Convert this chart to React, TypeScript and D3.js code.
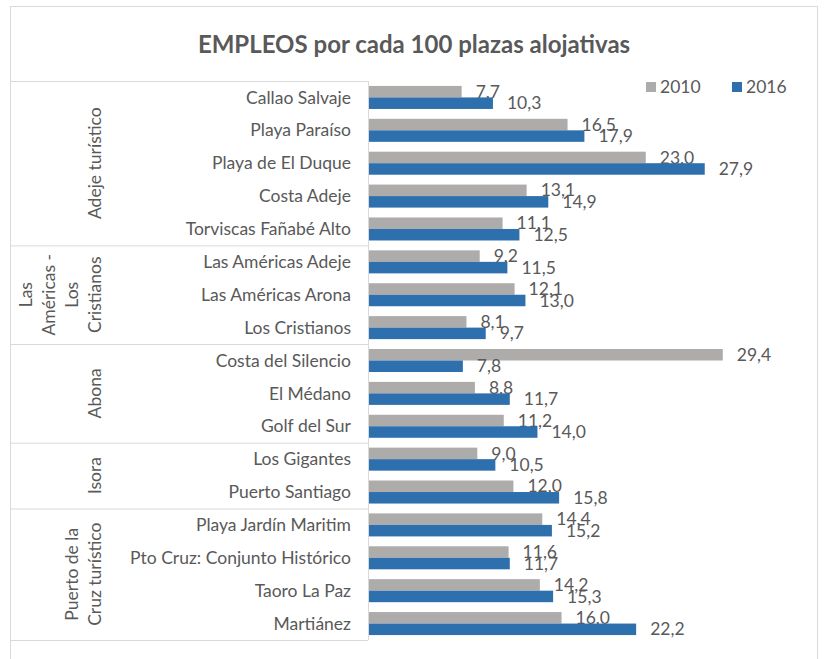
import React from "react";
import * as d3 from "d3";

const categories = [
  "Callao Salvaje",
  "Playa Paraíso",
  "Playa de El Duque",
  "Costa Adeje",
  "Torviscas Fañabé Alto",
  "Las Américas Adeje",
  "Las Américas Arona",
  "Los Cristianos",
  "Costa del Silencio",
  "El Médano",
  "Golf del Sur",
  "Los Gigantes",
  "Puerto Santiago",
  "Playa Jardín Maritim",
  "Pto Cruz: Conjunto Histórico",
  "Taoro La Paz",
  "Martiánez",
];

const values2010 = [7.7, 16.5, 23.0, 13.1, 11.1, 9.2, 12.1, 8.1, 29.4, 8.8, 11.2, 9.0, 12.0, 14.4, 11.6, 14.2, 16.0];
const values2016 = [10.3, 17.9, 27.9, 14.9, 12.5, 11.5, 13.0, 9.7, 7.8, 11.7, 14.0, 10.5, 15.8, 15.2, 11.7, 15.3, 22.2];

const seriesNames = ["2010", "2016"];
const seriesColors = ["#AEABAB", "#2E6FAD"];

// outer category level (rotated labels), lines + number of rows
const groupLines = [
  ["Adeje turístico"],
  ["Las", "Américas -", "Los", "Cristianos"],
  ["Abona"],
  ["Isora"],
  ["Puerto de la", "Cruz turístico"],
];
const groupSizes = [5, 3, 3, 2, 4];

const W = 824;
const H = 659;
const FONT = "Lato, 'Open Sans', sans-serif";
const TEXT = "#595959";
const LINE = "#D9D9D9";
const FS = 17.5;

const fmt = (v: number) => d3.format(".1f")(v).replace(".", ",");

export default function App() {
  const x = d3.scaleLinear().domain([0, 30]).range([369, 730]);
  const y = d3.scaleBand<string>().domain(categories).range([81, 640]).paddingInner(0.3).paddingOuter(0.15);
  const ySub = d3.scaleBand<string>().domain(seriesNames).range([0, y.bandwidth()]);
  const series = [values2010, values2016];

  const step = y.step();
  const top = 81;
  const boundaries = d3.cumsum(groupSizes);
  const starts = [0, ...Array.from(boundaries).slice(0, -1)];

  return (
    <svg width={W} height={H} style={{ position: "absolute", left: 0, top: 0, background: "#fff" }} fontFamily={FONT}>
      <rect x={10.5} y={6.5} width={807} height={700} fill="#fff" stroke={LINE} />
      <text x={414} y={53} textAnchor="middle" fontSize={24} fontWeight="bold" fill={TEXT}>
        EMPLEOS por cada 100 plazas alojativas
      </text>

      {/* legend */}
      {seriesNames.map((s, i) => (
        <g key={s} transform={`translate(${646 + i * 86},82)`}>
          <rect width={10} height={10} fill={seriesColors[i]} />
          <text x={14} y={5} dy="0.35em" fontSize={FS} fill={TEXT}>{s}</text>
        </g>
      ))}

      {/* category box */}
      <line x1={10} x2={368} y1={top + 0.5} y2={top + 0.5} stroke={LINE} />
      {Array.from(boundaries).map((b, i) => (
        <line key={i} x1={10} x2={368} y1={top + b * step + 0.5} y2={top + b * step + 0.5} stroke={LINE} />
      ))}
      <line x1={368.5} x2={368.5} y1={top} y2={640} stroke={LINE} />

      {/* group labels */}
      {groupLines.map((lines, gi) => {
        const cy = top + (starts[gi] + groupSizes[gi] / 2) * step;
        return lines.map((ln, li) => {
          const cx = 95 - (lines.length - 1 - li) * 23;
          return (
            <text key={gi + "-" + li} transform={`translate(${cx},${cy}) rotate(-90)`} textAnchor="middle" dy="0.35em" fontSize={FS} fill={TEXT}>
              {ln}
            </text>
          );
        });
      })}

      {/* category labels */}
      {categories.map((c) => (
        <text key={c} x={351} y={(y(c) ?? 0) + y.bandwidth() / 2} dy="0.35em" textAnchor="end" fontSize={FS} fill={TEXT}>
          {c}
        </text>
      ))}

      {/* bars */}
      {series.map((vals, si) => (
        <g key={si}>
          {vals.map((v, i) => {
            const by = (y(categories[i]) ?? 0) + (ySub(seriesNames[si]) ?? 0);
            return (
              <g key={i}>
                <rect x={x(0)} y={by} width={x(v) - x(0)} height={ySub.bandwidth()} fill={seriesColors[si]} />
                <text x={x(v) + 14} y={by + ySub.bandwidth() / 2} dy="0.35em" fontSize={FS} fill={TEXT}>
                  {fmt(v)}
                </text>
              </g>
            );
          })}
        </g>
      ))}
    </svg>
  );
}
